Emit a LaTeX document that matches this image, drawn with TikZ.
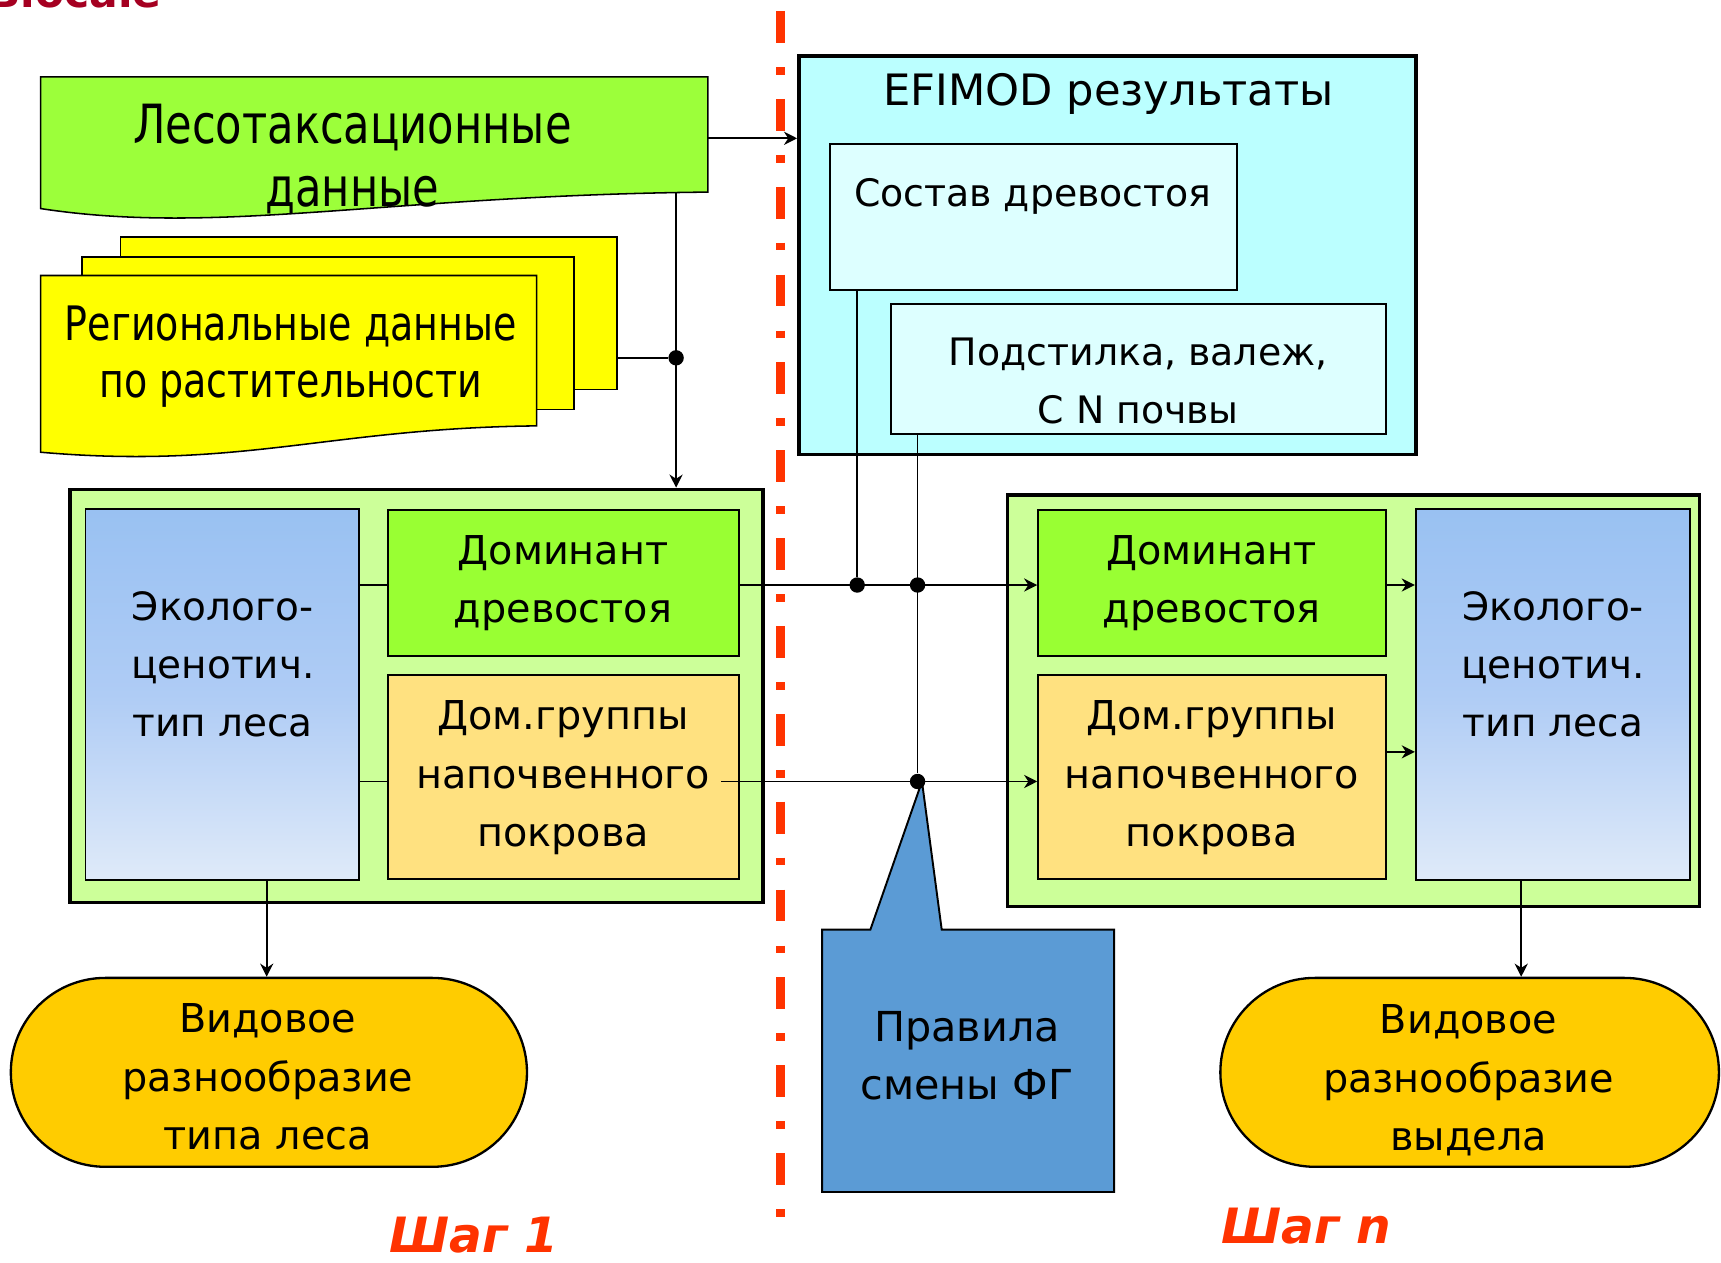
\documentclass[tikz,border=0pt]{standalone}
\usepackage{fontspec}
\setmainfont{DejaVu Sans}
\newfontfamily\condfont{DejaVu Sans}[FakeStretch=0.8]
\usetikzlibrary{arrows.meta}
\definecolor{docgreen}{HTML}{9CFF3A}
\definecolor{docyellow}{HTML}{FFFF00}
\definecolor{cyanout}{HTML}{BBFFFF}
\definecolor{cyanin}{HTML}{DDFFFF}
\definecolor{contgreen}{HTML}{CCFF99}
\definecolor{domgreen}{HTML}{99FF33}
\definecolor{groundorange}{HTML}{FFE180}
\definecolor{bluetop}{HTML}{99C1F2}
\definecolor{bluemid}{HTML}{AFCCF5}
\definecolor{bluebot}{HTML}{DFEAF9}
\definecolor{ovalfill}{HTML}{FFCC00}
\definecolor{rulesblue}{HTML}{5B9BD5}
\definecolor{stepred}{HTML}{FF3300}
\definecolor{titlered}{HTML}{A50021}
\newcommand{\mlines}[1]{\begin{tabular}[t]{@{}c@{}}#1\end{tabular}}
\tikzset{
  thinbox/.style={draw, rectangle, inner sep=0pt, line width=0.5pt},
  thickbox/.style={draw, rectangle, inner sep=0pt, line width=0.9pt},
  docline/.style={draw, line width=0.4pt},
  txt/.style={inner sep=0pt, anchor=base},
  maintext/.style={txt, font=\fontsize{10.3}{15.1}\selectfont},
  ecotext/.style={txt, font=\fontsize{10.1}{15.1}\selectfont},
  innertext/.style={txt, font=\fontsize{9.8}{15.1}\selectfont},
  steptext/.style={txt, text=stepred, font=\bfseries\itshape\fontsize{12.6}{15}\selectfont},
  conn/.style={line width=0.45pt},
  arr/.style={conn, -{Stealth[length=3.4pt,width=3.4pt,inset=1.1pt]}},
  junction/.style={circle, fill=black, inner sep=0pt, minimum size=0.14cm},
  bluebox/.style={thinbox, top color=bluetop, bottom color=bluebot, middle color=bluemid},
  ovalbox/.style={draw, rectangle, inner sep=0pt, line width=0.6pt, fill=ovalfill, rounded corners=0.86cm},
}
\begin{document}
\begin{tikzpicture}[x=0.01cm, y=-0.01cm]
\useasboundingbox (0,0) rectangle (1568,1150);

% cut-off title at top left
\node[txt, anchor=base east, text=titlered, font=\bfseries\fontsize{11}{13}\selectfont] (topword) at (148,7) {Biocale};

% red dash-dot divider
\draw[stepred, line width=0.08cm, dash pattern=on 0.29cm off 0.22cm on 0.07cm off 0.22cm] (711,10) -- (711,1110);

% forest inventory document
\path[docline, fill=docgreen] (37,70) -- (645,70) -- (645,175) .. controls (350,178) and (200,215) .. (37,190) -- cycle;
\coordinate (lesoE) at (645,126);
\coordinate (lesoB) at (616,175);
\node[txt, font=\condfont\fontsize{14}{16.2}\selectfont] (lesotext) at (321,131) {\mlines{Лесотаксационные\\данные}};

% regional vegetation data (multi-document)
\node[thinbox, line width=0.4pt, fill=docyellow, minimum width=4.52cm, minimum height=1.39cm] (regback) at (336,285.5) {};
\node[thinbox, line width=0.4pt, fill=docyellow, minimum width=4.48cm, minimum height=1.39cm] (regmid) at (299,303.5) {};
\path[docline, fill=docyellow] (37,251) -- (489,251) -- (489,388) .. controls (300,390) and (220,428) .. (37,412) -- cycle;
\node[txt, font=\condfont\fontsize{12.3}{14.8}\selectfont] (regtext) at (265,310) {\mlines{Региональные данные\\по растительности}};

% EFIMOD results
\node[thickbox, fill=cyanout, minimum width=5.62cm, minimum height=3.63cm] (efimod) at (1009,232.5) {};
\node[txt, font=\fontsize{11.2}{14}\selectfont] (efimodtext) at (1010,96) {EFIMOD результаты};
\node[thinbox, fill=cyanin, minimum width=3.71cm, minimum height=1.33cm] (sostav) at (941.5,197.5) {};
\node[innertext] (sostavtext) at (941,188) {Состав древостоя};
\node[thinbox, fill=cyanin, minimum width=4.51cm, minimum height=1.18cm] (podst) at (1037.5,336) {};
\node[innertext] (podsttext) at (1037,333) {\mlines{Подстилка, валеж,\\C N почвы}};

% left step container
\node[thickbox, fill=contgreen, minimum width=6.31cm, minimum height=3.76cm] (contL) at (379.5,634) {};
\node[bluebox, minimum width=2.49cm, minimum height=3.38cm] (blueL) at (202.5,633) {};
\node[ecotext] (blueLtext) at (203,565) {\mlines{Эколого-\\ценотич.\\тип леса}};
\node[thinbox, fill=domgreen, minimum width=3.19cm, minimum height=1.33cm] (domL) at (513.5,531.5) {};
\node[maintext] (domLtext) at (513,514) {\mlines{Доминант\\древостоя}};
\node[thinbox, fill=groundorange, minimum width=3.19cm, minimum height=1.86cm] (grpL) at (513.5,708) {};
\node[maintext] (grpLtext) at (513,665) {\mlines{Дом.группы\\напочвенного\\покрова}};

% right step container
\node[thickbox, fill=contgreen, minimum width=6.30cm, minimum height=3.75cm] (contR) at (1233,638.5) {};
\node[thinbox, fill=domgreen, minimum width=3.17cm, minimum height=1.33cm] (domR) at (1104.5,531.5) {};
\node[maintext] (domRtext) at (1104,514) {\mlines{Доминант\\древостоя}};
\node[thinbox, fill=groundorange, minimum width=3.17cm, minimum height=1.86cm] (grpR) at (1104.5,708) {};
\node[maintext] (grpRtext) at (1104,665) {\mlines{Дом.группы\\напочвенного\\покрова}};
\node[bluebox, minimum width=2.50cm, minimum height=3.38cm] (blueR) at (1415,633) {};
\node[ecotext] (blueRtext) at (1415,565) {\mlines{Эколого-\\ценотич.\\тип леса}};

% diversity ovals
\node[ovalbox, minimum width=4.70cm, minimum height=1.72cm] (ovalL) at (245,977) {};
\node[maintext] (ovalLtext) at (244,941) {\mlines{Видовое\\разнообразие\\типа леса}};
\node[ovalbox, minimum width=4.54cm, minimum height=1.72cm] (ovalR) at (1339,977) {};
\node[maintext] (ovalRtext) at (1338,942) {\mlines{Видовое\\разнообразие\\выдела}};

% rules callout
\path[draw, line width=0.5pt, fill=rulesblue] (749,847) -- (793,847) -- (840,712) -- (858,847) -- (1015,847) -- (1015,1086) -- (749,1086) -- cycle;
\node[txt, font=\fontsize{10.7}{15.1}\selectfont] (rulestext) at (881,949) {\mlines{Правила\\смены ФГ}};

% step labels
\node[steptext] (step1) at (432,1141) {Шаг 1};
\node[steptext] (stepn) at (1190,1133) {Шаг n};

% connectors
\draw[arr] (lesoE) -- (lesoE -| efimod.west);
\draw[arr] (lesoB) -- (lesoB |- contL.north);
\node[junction] (j1) at (616,326) {};
\draw[conn] (regback.east |- j1) -- (j1);

\coordinate (yDom) at (0,533);
\coordinate (yGrp) at (0,712);
\draw[conn] (blueL.east |- yDom) -- (domL.west |- yDom);
\draw[conn] (blueL.east |- yGrp) -- (grpL.west |- yGrp);

\draw[arr] (domL.east |- yDom) -- (domR.west |- yDom);
\node[junction] (j2) at (781,533) {};
\node[junction] (j3) at (836,533) {};
\node[junction] (j4) at (836,712) {};
\draw[conn] (sostav.south -| j2) -- (j2);
\draw[conn] (podst.south -| j3) -- (j4);
\coordinate (grpstart) at (657,712);
\draw[arr] (grpstart) -- (grpR.west |- grpstart);

\coordinate (yR2) at (0,685);
\draw[arr] (domR.east |- yDom) -- (blueR.west |- yDom);
\draw[arr] (grpR.east |- yR2) -- (blueR.west |- yR2);

\coordinate (dl) at (243,802);
\coordinate (dr) at (1386,802);
\draw[arr] (dl) -- (dl |- ovalL.north);
\draw[arr] (dr) -- (dr |- ovalR.north);
\end{tikzpicture}
\end{document}
